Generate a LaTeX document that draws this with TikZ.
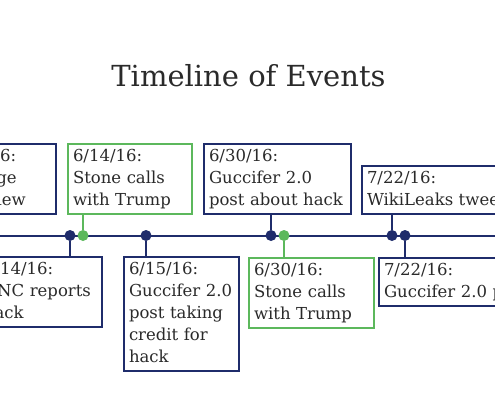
\documentclass[tikz,border=0pt]{standalone}
\usepackage{fontspec}
\setmainfont{DejaVu Serif}
\usepackage{tikz}
\usetikzlibrary{positioning}
\definecolor{navy}{HTML}{1F2C6B}
\definecolor{stonegreen}{HTML}{5CB85C}
\definecolor{ink}{HTML}{2A2A2A}
\newcommand{\evfont}{\fontsize{16.5}{22}\selectfont}
\tikzset{
  event/.style={rectangle,draw=navy,line width=2pt,fill=white,anchor=north west,
    align=left,inner xsep=5pt,inner ysep=5pt,text=ink,font=\evfont,
    execute at begin node={\rule{0pt}{12pt}},execute at end node={\rule[-4pt]{0pt}{4pt}}},
  call/.style={event,draw=stonegreen},
  link/.style={line width=2pt,draw=navy},
  calllink/.style={link,draw=stonegreen},
  dot/.style={circle,fill=navy,inner sep=0pt,minimum size=11pt},
  calldot/.style={dot,fill=stonegreen}
}

\begin{document}
\begin{tikzpicture}[x=1pt,y=-1pt]
\useasboundingbox (0,0) rectangle (495,400);
\clip (0,0) rectangle (495,400);
\node[anchor=base,text=ink,font=\fontsize{29}{34}\selectfont] (title) at (248.5,86) {Timeline of Events};
% events above the line
\node[event,text width=104pt] (tA) at (-59,143) {6/12/16:\\Assange\\interview};
\node[call,text width=114pt] (tB) at (67,143) {6/14/16:\\Stone calls\\with Trump};
\node[event,text width=137pt] (tC) at (203,143) {6/30/16:\\Guccifer 2.0\\post about hack};
\node[event,text width=189pt] (tD) at (361,165) {7/22/16:\\WikiLeaks tweets};
% events below the line
\node[event,text width=113pt] (bA) at (-22,256) {6/14/16:\\DNC reports\\hack};
\node[event,text width=105pt] (bB) at (123,256) {6/15/16:\\Guccifer 2.0\\post taking\\credit for\\hack};
\node[call,text width=115pt] (bC) at (248,257) {6/30/16:\\Stone calls\\with Trump};
\node[event,text width=172pt] (bD) at (378,257) {7/22/16:\\Guccifer 2.0 posts};
% the line and its dots
\coordinate (tl west) at (0,235.5);
\coordinate (tl east) at (495,235.5);
\draw[link] (tl west) -- (tl east);
\node[dot] (d1) at (70,235.5) {};
\node[calldot] (g1) at (83,235.5) {};
\node[dot] (d2) at (146,235.5) {};
\node[dot] (d3) at (271,235.5) {};
\node[calldot] (g2) at (284,235.5) {};
\node[dot] (d4) at (392,235.5) {};
\node[dot] (d5) at (405,235.5) {};
\draw[calllink] (tB.south -| g1) -- (g1);
\draw[link] (tC.south -| d3) -- (d3);
\draw[link] (tD.south -| d4) -- (d4);
\draw[link] (d1) -- (d1 |- bA.north);
\draw[link] (d2) -- (d2 |- bB.north);
\draw[calllink] (g2) -- (g2 |- bC.north);
\draw[link] (d5) -- (d5 |- bD.north);
\end{tikzpicture}
\end{document}
